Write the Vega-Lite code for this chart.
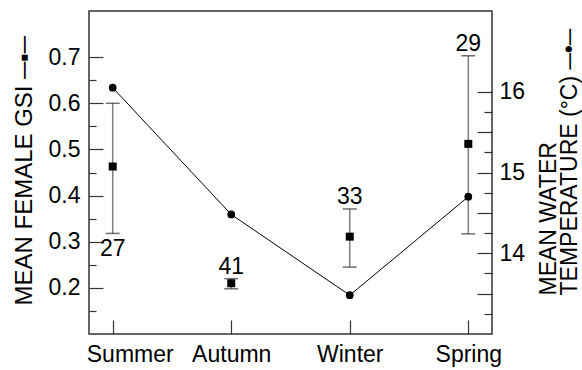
{
  "$schema": "https://vega.github.io/schema/vega-lite/v6.json",
  "width": 403,
  "height": 323,
  "autosize": {"type": "none"},
  "padding": {"left": 89, "top": 11, "right": 90, "bottom": 36},
  "config": {
    "font": "Liberation Sans",
    "view": {"stroke": "#333", "strokeWidth": 1.5},
    "axis": {
      "domain": false,
      "grid": false,
      "tickColor": "#333",
      "tickWidth": 1.2,
      "labelColor": "#000",
      "titleColor": "#000",
      "labelFontSize": 23,
      "titleFontSize": 23,
      "titleFontWeight": "normal",
      "labelOverlap": false,
      "labelBound": false,
      "labelFlush": false
    }
  },
  "data": {
    "values": [
      {"season": "Summer", "gsi": 0.463, "lo": 0.318, "hi": 0.600, "n": 27, "temp": 16.05},
      {"season": "Autumn", "gsi": 0.210, "lo": 0.198, "hi": 0.220, "n": 41, "temp": 14.48},
      {"season": "Winter", "gsi": 0.311, "lo": 0.245, "hi": 0.371, "n": 33, "temp": 13.48},
      {"season": "Spring", "gsi": 0.512, "lo": 0.317, "hi": 0.703, "n": 29, "temp": 14.70}
    ]
  },
  "encoding": {
    "x": {
      "field": "season",
      "type": "nominal",
      "sort": null,
      "scale": {"type": "point", "padding": 0.2, "domain": ["Summer", "Autumn", "Winter", "Spring"]},
      "axis": {
        "title": null,
        "orient": "bottom",
        "tickSize": -14,
        "labelPadding": 23,
        "labelFontSize": 23,
        "labelAngle": 0,
        "labelBaseline": "top",
        "labelOffset": {"condition": {"test": "datum.value === 'Summer'", "value": 17}, "value": 0}
      }
    }
  },
  "layer": [
    {
      "resolve": {"axis": {"y": "independent"}},
      "layer": [
        {
          "mark": {"type": "rule", "color": "#808080", "strokeWidth": 1.5},
          "encoding": {
            "y": {
              "field": "lo",
              "type": "quantitative",
              "scale": {"domain": [0.1, 0.8], "nice": false, "zero": false},
              "axis": {
                "orient": "left",
                "title": null,
                "labels": false,
                "values": [0.15, 0.25, 0.35, 0.45, 0.55, 0.65],
                "tickSize": -7
              }
            },
            "y2": {"field": "hi"}
          }
        },
        {
          "mark": {"type": "tick", "orient": "horizontal", "size": 14, "thickness": 1.5, "color": "#333"},
          "encoding": {"y": {"field": "lo", "type": "quantitative", "axis": null}}
        },
        {
          "mark": {"type": "tick", "orient": "horizontal", "size": 14, "thickness": 1.5, "color": "#333"},
          "encoding": {"y": {"field": "hi", "type": "quantitative", "axis": null}}
        },
        {
          "mark": {"type": "point", "shape": "square", "filled": true, "size": 64, "color": "#000", "opacity": 1},
          "encoding": {
            "y": {
              "field": "gsi",
              "type": "quantitative",
              "axis": {
                "orient": "left",
                "title": "MEAN FEMALE GSI ─▪─",
                "titleFontSize": 24,
                "titleAngle": -90,
                "titleAlign": "left",
                "titleBaseline": "alphabetic",
                "titleX": -57.5,
                "titleY": 294,
                "values": [0.2, 0.3, 0.4, 0.5, 0.6, 0.7],
                "format": ".1f",
                "tickSize": -14,
                "labelFontSize": 23,
                "labelPadding": 23
              }
            }
          }
        },
        {
          "transform": [{"filter": "datum.season !== 'Summer'"}],
          "mark": {"type": "text", "fontSize": 23, "color": "#000", "baseline": "alphabetic", "dy": -5},
          "encoding": {
            "y": {"field": "hi", "type": "quantitative", "axis": null},
            "text": {"field": "n", "type": "quantitative"}
          }
        },
        {
          "transform": [{"filter": "datum.season === 'Summer'"}],
          "mark": {"type": "text", "fontSize": 23, "color": "#000", "baseline": "alphabetic", "dy": 23},
          "encoding": {
            "y": {"field": "lo", "type": "quantitative", "axis": null},
            "text": {"field": "n", "type": "quantitative"}
          }
        }
      ]
    },
    {
      "resolve": {"axis": {"y": "independent"}},
      "layer": [
        {
          "mark": {"type": "line", "color": "#000", "strokeWidth": 1},
          "encoding": {
            "y": {
              "field": "temp",
              "type": "quantitative",
              "scale": {"domain": [13, 17], "nice": false, "zero": false},
              "axis": {
                "orient": "right",
                "title": ["MEAN WATER", "TEMPERATURE (°C) ─•─"],
                "titleFontSize": 23,
                "titleAngle": -90,
                "titleAlign": "left",
                "titleBaseline": "alphabetic",
                "titleLineHeight": 21,
                "titleX": 63,
                "titleY": 284,
                "values": [13.5, 14, 14.5, 15, 15.5, 16],
                "tickSize": -15,
                "labelFontSize": 23,
                "labelPadding": 22,
                "labelExpr": "datum.value % 1 === 0 ? format(datum.value, 'd') : ''"
              }
            }
          }
        },
        {
          "mark": {"type": "point", "shape": "circle", "filled": true, "size": 60, "color": "#000", "opacity": 1},
          "encoding": {
            "y": {
              "field": "temp",
              "type": "quantitative",
              "axis": {
                "orient": "right",
                "title": null,
                "labels": false,
                "values": [13.25, 13.75, 14.25, 14.75, 15.25, 15.75],
                "tickSize": -8
              }
            }
          }
        }
      ]
    }
  ],
  "resolve": {"scale": {"y": "independent"}}
}
